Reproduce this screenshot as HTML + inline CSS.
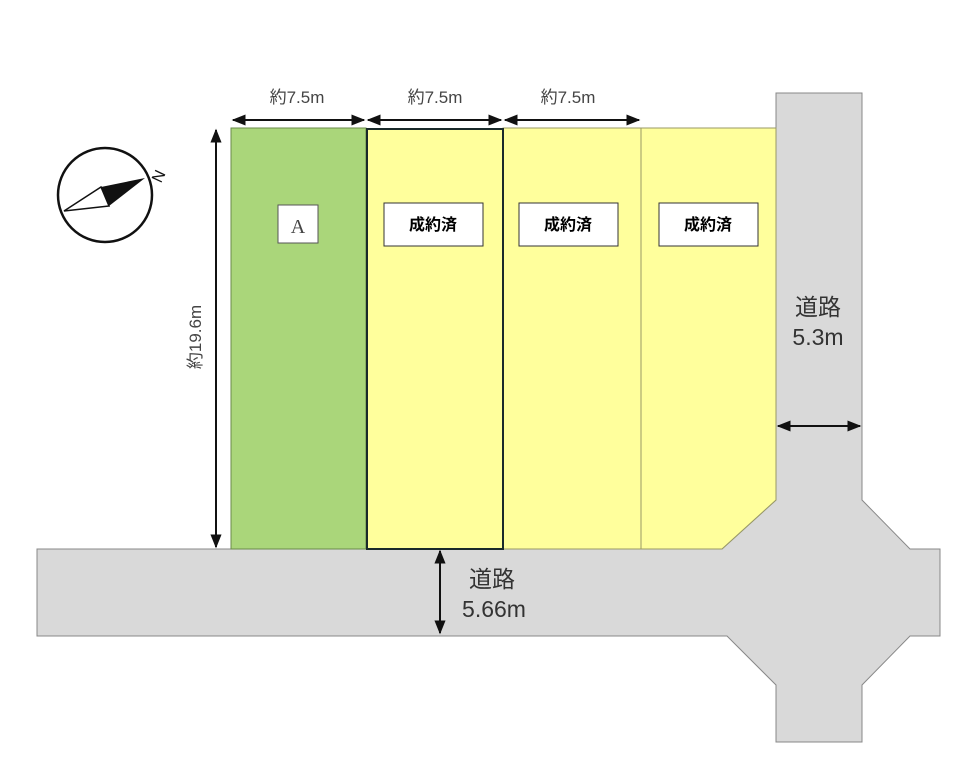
<!DOCTYPE html>
<html><head><meta charset="utf-8"><style>
body{margin:0;background:#fff;width:980px;height:778px;overflow:hidden}
svg text{font-family:"Liberation Sans","Noto Sans CJK JP",sans-serif}
</style></head><body>
<svg width="980" height="778" viewBox="0 0 980 778" xmlns="http://www.w3.org/2000/svg">
<defs>
<marker id="a" viewBox="0 0 10 10" refX="9" refY="5" markerWidth="7" markerHeight="7" orient="auto-start-reverse"><path d="M0,1 L10,5 L0,9 z" fill="#111"/></marker>
</defs>
<path d="M776,93 H862 V500 L910,549 H940 V636 H910 L862,685 V742 H776 V685 L727,636 H37 V549 H722 L776,500 Z" fill="#d9d9d9" stroke="#888" stroke-width="1"/>
<rect x="231" y="128" width="135" height="421" fill="#aad67a" stroke="#6a8a4a" stroke-width="1"/>
<rect x="503" y="128" width="138" height="421" fill="#ffff9c" stroke="#999966" stroke-width="1"/>
<path d="M641,128 H776 V500 L722,549 H641 Z" fill="#ffff9c" stroke="#999966" stroke-width="1"/>
<rect x="367" y="129" width="136" height="420" fill="#ffff9c" stroke="#1a2a2a" stroke-width="2"/>
<rect x="278" y="205" width="40" height="38" fill="#fff" stroke="#555"/>
<text x="298" y="233" font-size="20" text-anchor="middle" style="font-family:'Liberation Serif',serif" fill="#444">A</text>
<g font-size="16" font-weight="bold" text-anchor="middle" fill="#000">
<rect x="384" y="203" width="99" height="43" fill="#fff" stroke="#333"/><text x="433" y="230">成約済</text>
<rect x="519" y="203" width="99" height="43" fill="#fff" stroke="#333"/><text x="568" y="230">成約済</text>
<rect x="659" y="203" width="99" height="43" fill="#fff" stroke="#333"/><text x="708" y="230">成約済</text>
</g>
<g stroke="#111" stroke-width="2" marker-start="url(#a)" marker-end="url(#a)">
<line x1="233" y1="120" x2="364" y2="120"/>
<line x1="368" y1="120" x2="501" y2="120"/>
<line x1="505" y1="120" x2="639" y2="120"/>
<line x1="216" y1="130" x2="216" y2="547"/>
<line x1="778" y1="426" x2="860" y2="426"/>
<line x1="440" y1="551" x2="440" y2="633"/>
</g>
<g font-size="17" fill="#444" text-anchor="middle">
<text x="297" y="103">約7.5m</text>
<text x="435" y="103">約7.5m</text>
<text x="568" y="103">約7.5m</text>
<text transform="translate(201,337) rotate(-90)">約19.6m</text>
</g>
<g font-size="23" fill="#333" text-anchor="middle">
<text x="492" y="587">道路</text>
<text x="494" y="617">5.66m</text>
<text x="818" y="315">道路</text>
<text x="818" y="345">5.3m</text>
</g>
<circle cx="105" cy="195" r="47" fill="#fff" stroke="#111" stroke-width="2.5"/>
<path d="M64,211 L101,187 L109,206 Z" fill="#fff" stroke="#111" stroke-width="1.5"/>
<path d="M101,187 L145,178 L109,206 Z" fill="#111"/>
<text x="158" y="182" font-size="16" fill="#111" transform="rotate(-65 158 176)" text-anchor="middle">N</text>
</svg>
</body></html>
